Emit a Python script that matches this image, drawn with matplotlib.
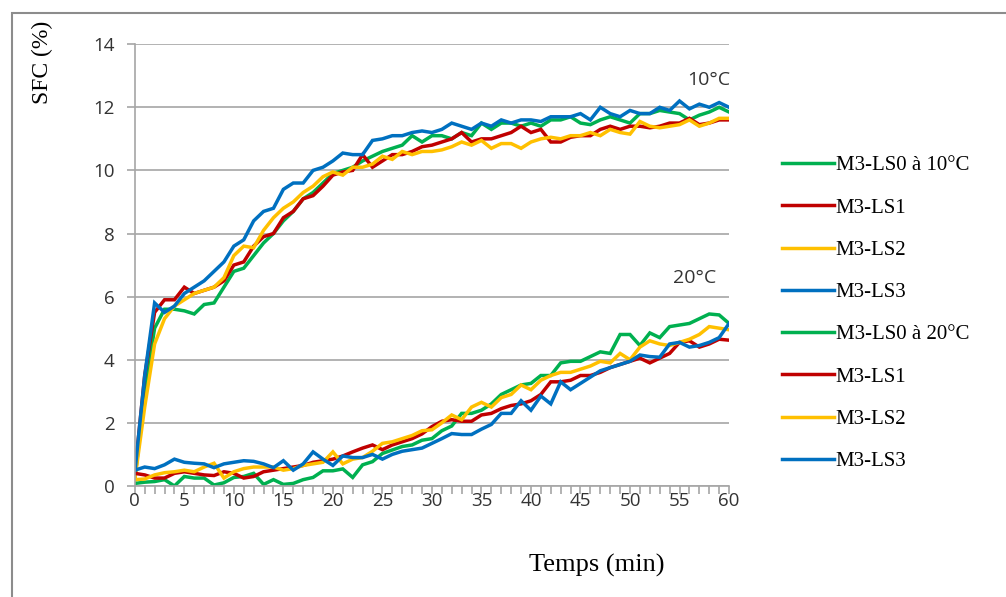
import numpy as np
import matplotlib
matplotlib.use("Agg")
import matplotlib.pyplot as plt
from matplotlib.patches import Rectangle
from matplotlib.ticker import MultipleLocator

# temps en minutes
temps = np.arange(0, 61)

# SFC a 10 degres
ls0_10 = [0.2, 3.0, 5.0, 5.6, 5.6, 5.55, 5.45, 5.75, 5.8, 6.3, 6.8, 6.9, 7.3, 7.7, 8.0, 8.4,
          8.7, 9.1, 9.3, 9.6, 9.9, 10.0, 10.1, 10.3, 10.45, 10.6, 10.7, 10.8, 11.1, 10.9, 11.1,
          11.1, 11.0, 11.2, 11.1, 11.5, 11.3, 11.5, 11.5, 11.4, 11.5, 11.4, 11.6, 11.6, 11.7,
          11.5, 11.45, 11.6, 11.7, 11.6, 11.5, 11.8, 11.8, 11.9, 11.85, 11.8, 11.6, 11.75, 11.85,
          12.0, 11.85]
ls1_10 = [0.4, 3.5, 5.5, 5.9, 5.9, 6.3, 6.1, 6.2, 6.3, 6.5, 7.0, 7.1, 7.6, 7.9, 8.0, 8.5,
          8.7, 9.1, 9.2, 9.5, 9.85, 9.95, 10.0, 10.5, 10.1, 10.3, 10.5, 10.5, 10.6, 10.75, 10.8,
          10.9, 11.0, 11.2, 10.9, 11.0, 11.0, 11.1, 11.2, 11.4, 11.2, 11.3, 10.9, 10.9, 11.05,
          11.1, 11.1, 11.3, 11.4, 11.3, 11.4, 11.4, 11.35, 11.4, 11.5, 11.5, 11.65, 11.45, 11.5,
          11.6, 11.6]
ls2_10 = [0.2, 2.5, 4.5, 5.3, 5.7, 5.9, 6.1, 6.2, 6.3, 6.6, 7.3, 7.6, 7.55, 8.1, 8.5, 8.8,
          9.0, 9.3, 9.5, 9.8, 9.95, 9.85, 10.1, 10.1, 10.2, 10.45, 10.35, 10.6, 10.5, 10.6, 10.6,
          10.65, 10.75, 10.9, 10.8, 10.95, 10.7, 10.85, 10.85, 10.7, 10.9, 11.0, 11.05, 11.0, 11.1,
          11.1, 11.2, 11.1, 11.3, 11.2, 11.15, 11.55, 11.4, 11.35, 11.4, 11.45, 11.6, 11.4, 11.5,
          11.65, 11.65]
ls3_10 = [0.4, 3.5, 5.8, 5.5, 5.7, 6.1, 6.3, 6.5, 6.8, 7.1, 7.6, 7.8, 8.4, 8.7, 8.8, 9.4,
          9.6, 9.6, 10.0, 10.1, 10.3, 10.55, 10.5, 10.5, 10.95, 11.0, 11.1, 11.1, 11.2, 11.25, 11.2,
          11.3, 11.5, 11.4, 11.3, 11.5, 11.4, 11.6, 11.5, 11.6, 11.6, 11.55, 11.7, 11.7, 11.7,
          11.8, 11.6, 12.0, 11.8, 11.7, 11.9, 11.8, 11.8, 12.0, 11.9, 12.2, 11.95, 12.1, 12.0,
          12.15, 12.0]

# SFC a 20 degres
ls0_20 = [0.08, 0.12, 0.14, 0.2, 0.0, 0.3, 0.25, 0.25, 0.03, 0.1, 0.27, 0.3, 0.4, 0.05, 0.2,
          0.05, 0.08, 0.2, 0.27, 0.48, 0.48, 0.54, 0.27, 0.67, 0.77, 1.03, 1.14, 1.25, 1.3, 1.45,
          1.5, 1.75, 1.9, 2.3, 2.3, 2.4, 2.6, 2.9, 3.05, 3.2, 3.25, 3.5, 3.5, 3.9, 3.95, 3.95,
          4.1, 4.25, 4.2, 4.8, 4.8, 4.45, 4.85, 4.7, 5.05, 5.1, 5.15, 5.3, 5.45, 5.42, 5.15]
ls1_20 = [0.4, 0.35, 0.25, 0.25, 0.4, 0.45, 0.4, 0.35, 0.33, 0.45, 0.4, 0.25, 0.3, 0.45, 0.5,
          0.55, 0.6, 0.65, 0.75, 0.8, 0.85, 0.95, 1.08, 1.2, 1.3, 1.15, 1.3, 1.4, 1.5, 1.65,
          1.88, 2.05, 2.1, 2.05, 2.05, 2.25, 2.3, 2.45, 2.55, 2.6, 2.7, 2.9, 3.3, 3.3, 3.35, 3.5,
          3.5, 3.6, 3.75, 3.85, 3.95, 4.05, 3.9, 4.05, 4.2, 4.55, 4.6, 4.4, 4.5, 4.65, 4.62]
ls2_20 = [0.2, 0.22, 0.35, 0.42, 0.45, 0.5, 0.45, 0.6, 0.72, 0.25, 0.45, 0.55, 0.6, 0.6, 0.6,
          0.5, 0.55, 0.65, 0.7, 0.75, 1.08, 0.7, 0.85, 0.9, 1.1, 1.35, 1.4, 1.5, 1.6, 1.75,
          1.78, 2.0, 2.25, 2.1, 2.5, 2.65, 2.5, 2.8, 2.9, 3.2, 3.05, 3.35, 3.5, 3.6, 3.6, 3.7,
          3.8, 3.95, 3.9, 4.2, 4.0, 4.4, 4.6, 4.5, 4.45, 4.55, 4.65, 4.8, 5.05, 5.0, 4.95]
ls3_20 = [0.5, 0.6, 0.55, 0.67, 0.85, 0.75, 0.72, 0.7, 0.58, 0.7, 0.75, 0.8, 0.78, 0.7, 0.58,
          0.8, 0.5, 0.7, 1.08, 0.85, 0.65, 0.95, 0.9, 0.9, 1.0, 0.85, 1.0, 1.1, 1.15, 1.2,
          1.35, 1.5, 1.66, 1.63, 1.63, 1.8, 1.95, 2.3, 2.3, 2.7, 2.4, 2.85, 2.6, 3.3, 3.05, 3.25,
          3.45, 3.65, 3.75, 3.85, 3.95, 4.15, 4.1, 4.08, 4.5, 4.55, 4.4, 4.45, 4.55, 4.7, 5.15]

labels = ["M3-LS0 à 10°C", "M3-LS1", "M3-LS2", "M3-LS3",
          "M3-LS0 à 20°C", "M3-LS1", "M3-LS2", "M3-LS3"]
couleurs = ["#00b050", "#c00000", "#ffc000", "#0070c0"]

series = [ls0_10, ls1_10, ls2_10, ls3_10, ls0_20, ls1_20, ls2_20, ls3_20]

fig = plt.figure(figsize=(10.06, 5.97), dpi=100)
ax = fig.add_axes([0.134, 0.186, 0.5907, 0.740])

for i, s in enumerate(series):
    ax.plot(temps, s, color=couleurs[i % 4], lw=2.5, label=labels[i],
            solid_joinstyle="miter")

ax.set_xlim(0, 60)
ax.set_ylim(0, 14)
ax.xaxis.set_major_locator(MultipleLocator(5))
ax.xaxis.set_minor_locator(MultipleLocator(1))
ax.yaxis.set_major_locator(MultipleLocator(2))
ax.grid(axis="y", color="#a6a6a6", lw=1.2)
ax.set_axisbelow(True)

for side in ["top", "right"]:
    ax.spines[side].set_visible(False)
for side in ["left", "bottom"]:
    ax.spines[side].set_color("#a6a6a6")
    ax.spines[side].set_linewidth(1.2)

ax.tick_params(axis="y", direction="out", length=5.5, color="#a6a6a6", width=1.2,
               labelsize=13.5, pad=9)
ax.tick_params(axis="x", which="both", direction="out", length=5.5, color="#a6a6a6",
               width=1.2, labelsize=13.5, pad=-1)
for t in ax.get_xticklabels() + ax.get_yticklabels():
    t.set_fontfamily("Open Sans")
    t.set_color("#333333")

ax.set_xlabel("Temps (min)", fontfamily="Liberation Serif", fontsize=19)
ax.set_ylabel("SFC (%)", fontfamily="Liberation Serif", fontsize=17)
ax.xaxis.set_label_coords(0.777, -0.154)
ax.yaxis.set_label_coords(-0.137, 0.959)

ax.text(58.0, 12.88, "10°C", ha="center", va="center", fontsize=14,
        fontfamily="Open Sans", color="#333333")
ax.text(56.5, 6.6, "20°C", ha="center", va="center", fontsize=14,
        fontfamily="Open Sans", color="#333333")

leg = ax.legend(loc="upper left", bbox_to_anchor=(1.057, 0.79), frameon=False,
                prop={"family": "Liberation Serif", "size": 15},
                handlelength=2.5, handletextpad=0.1, labelspacing=1.09)

# cadre autour du graphique
fig.patches.append(Rectangle((12 / 1006, -0.1), 1.2, (597 - 13) / 597 + 0.1,
                             transform=fig.transFigure, fill=False,
                             edgecolor="#8c8c8c", lw=1.5))

fig.savefig("out.png", dpi=100)
